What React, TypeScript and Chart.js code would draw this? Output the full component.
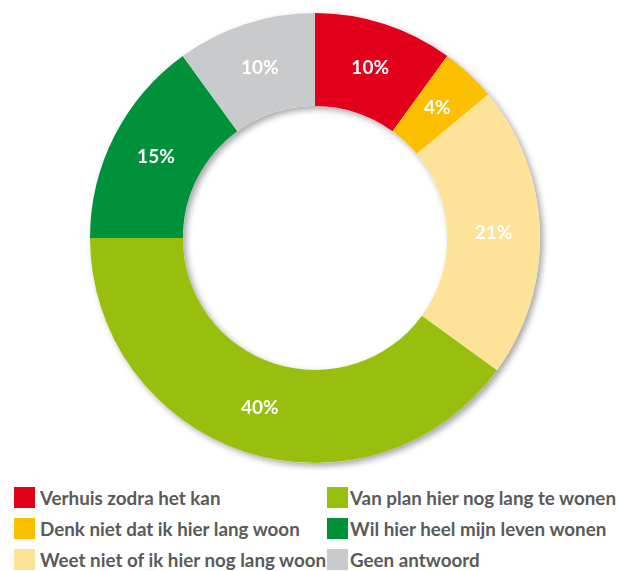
import React, { useEffect, useRef } from "react";
import { Chart, registerables } from "chart.js";

Chart.register(...registerables);

const categories = [
  "Verhuis zodra het kan",
  "Denk niet dat ik hier lang woon",
  "Weet niet of ik hier nog lang woon",
  "Van plan hier nog lang te wonen",
  "Wil hier heel mijn leven wonen",
  "Geen antwoord",
];
const values = [10, 4, 21, 40, 15, 10];
const colors = ["#e2001a", "#fbbf00", "#fde397", "#98bf0e", "#00923a", "#c9cacc"];
const legendColumns = [
  [0, 1, 2],
  [3, 4, 5],
];

const shadowPlugin = {
  id: "ringShadow",
  beforeDatasetsDraw(chart: any) {
    const meta = chart.getDatasetMeta(0);
    const el = meta.data[0];
    if (!el) return;
    const { x, y, innerRadius, outerRadius } = el.getProps(["x", "y", "innerRadius", "outerRadius"], true);
    const ctx = chart.ctx;
    ctx.save();
    ctx.shadowColor = "rgba(0,0,0,0.35)";
    ctx.shadowBlur = 6;
    ctx.shadowOffsetX = 3;
    ctx.shadowOffsetY = 3;
    ctx.beginPath();
    ctx.arc(x, y, outerRadius, 0, Math.PI * 2);
    ctx.arc(x, y, innerRadius, 0, Math.PI * 2, true);
    ctx.closePath();
    ctx.fillStyle = "#ffffff";
    ctx.fill();
    ctx.restore();
  },
};

const labelPlugin = {
  id: "sliceLabels",
  afterDatasetsDraw(chart: any) {
    const ctx = chart.ctx;
    const meta = chart.getDatasetMeta(0);
    ctx.save();
    ctx.fillStyle = "#ffffff";
    ctx.font = "bold 19px Lato";
    ctx.textAlign = "center";
    ctx.textBaseline = "middle";
    meta.data.forEach((el: any, i: number) => {
      const p = el.getCenterPoint();
      ctx.fillText(`${values[i]}%`, p.x, p.y);
    });
    ctx.restore();
  },
};

export default function App() {
  const ref = useRef<HTMLCanvasElement>(null);
  useEffect(() => {
    if (!ref.current) return;
    const chart = new Chart(ref.current, {
      type: "doughnut",
      data: {
        labels: categories,
        datasets: [
          {
            data: values,
            backgroundColor: colors,
            borderWidth: 0,
          },
        ],
      },
      options: {
        animation: false,
        responsive: false,
        cutout: "58.7%",
        layout: { padding: { left: 90, right: 78, top: 13, bottom: 7 } },
        plugins: {
          legend: { display: false },
          tooltip: { enabled: false },
        },
      },
      plugins: [shadowPlugin, labelPlugin],
    });
    return () => chart.destroy();
  }, []);

  return (
    <div
      style={{
        position: "fixed",
        left: 0,
        top: 0,
        width: 618,
        height: 571,
        overflow: "hidden",
        background: "#ffffff",
      }}
    >
      <canvas
        ref={ref}
        width={618}
        height={470}
        style={{ position: "absolute", left: 0, top: 0, width: 618, height: 470 }}
      />
      {legendColumns.map((col, c) =>
        col.map((idx, r) => (
          <div
            key={idx}
            style={{
              position: "absolute",
              left: c === 0 ? 14 : 327,
              top: 487 + r * 31,
              height: 21,
              display: "flex",
              alignItems: "center",
              whiteSpace: "nowrap",
            }}
          >
            <span
              style={{
                display: "inline-block",
                width: 21,
                height: 21,
                background: colors[idx],
                marginRight: c === 0 ? 5 : 2,
              }}
            />
            <span
              style={{
                fontFamily: "Lato",
                fontWeight: 700,
                fontSize: 18.8,
                color: "#5a5a5a",
              }}
            >
              {categories[idx]}
            </span>
          </div>
        ))
      )}
    </div>
  );
}
